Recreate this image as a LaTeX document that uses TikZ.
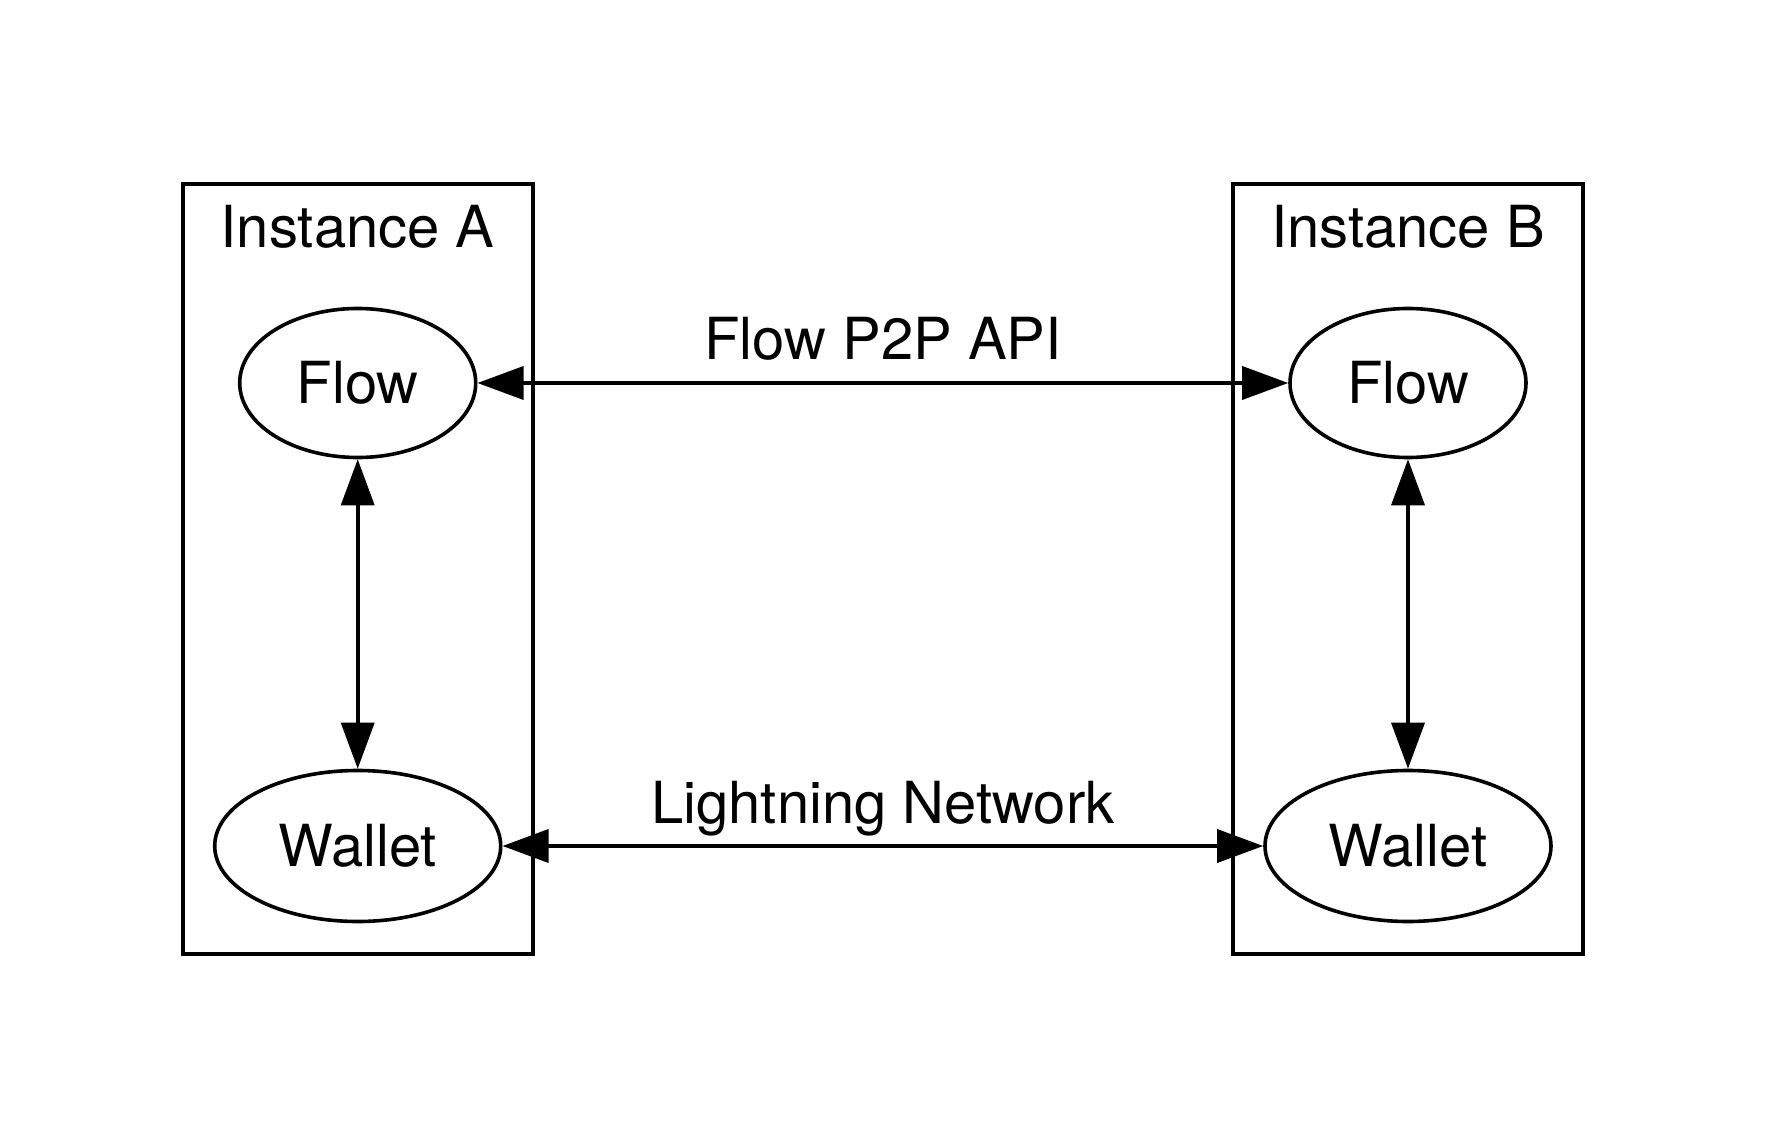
\documentclass[tikz,border=0pt]{standalone}
\usepackage{fontspec}
\setmainfont{TeX Gyre Heros}
\usetikzlibrary{arrows.meta,shapes.geometric}
\begin{document}
\begin{tikzpicture}[x=0.5pt,y=-0.5pt,
  every node/.style={font=\fontsize{29}{35}\selectfont},
  proc/.style={draw,ellipse,line width=1.8pt,inner sep=0pt},
  cluster/.style={draw,line width=1.8pt},
  link/.style={line width=1.8pt,{Triangle[length=23pt,width=16.5pt]}-{Triangle[length=23pt,width=16.5pt]}},
  lbl/.style={anchor=base,inner sep=0pt}]
\useasboundingbox (0,0) rectangle (1767,1138);
% clusters
\draw[cluster] (182.7,184) rectangle (532.7,954);
\draw[cluster] (1233,184) rectangle (1583,954);
\node[lbl] (ia) at (357.7,247.5) {Instance A};
\node[lbl] (ib) at (1408,247.5) {Instance B};
% nodes
\node[proc,minimum width=118pt,minimum height=74.5pt] (fa) at (357.7,383) {Flow};
\node[proc,minimum width=143pt,minimum height=75.5pt] (wa) at (357.7,846) {Wallet};
\node[proc,minimum width=118pt,minimum height=74.5pt] (fb) at (1408,383) {Flow};
\node[proc,minimum width=143pt,minimum height=75.5pt] (wb) at (1408,846) {Wallet};
% edges
\draw[link] (fa) -- (wa);
\draw[link] (fb) -- (wb);
\draw[link] (fa) -- (fb);
\draw[link] (wa) -- (wb);
\node[lbl] (lp) at (883,360) {Flow P2P API};
\node[lbl] (ll) at (883,823) {Lightning Network};
\end{tikzpicture}
\end{document}
